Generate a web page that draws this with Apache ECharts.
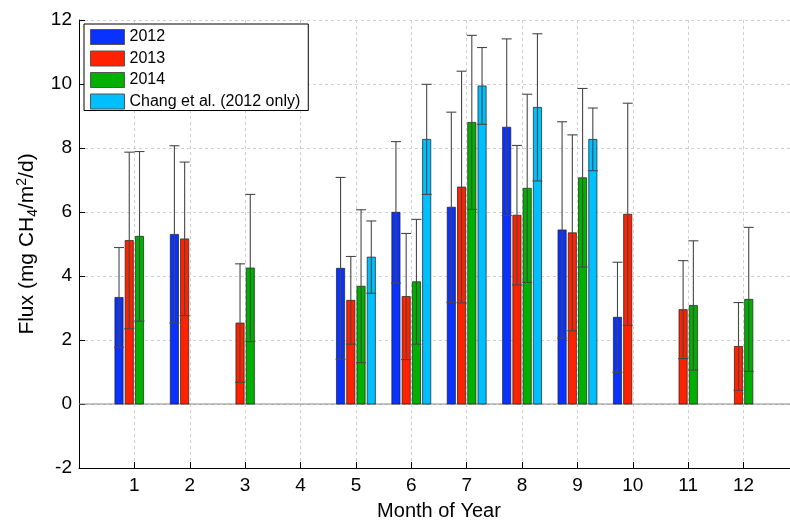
<!DOCTYPE html>
<html>
<head>
<meta charset="utf-8">
<script src="https://cdn.jsdelivr.net/npm/echarts@6/dist/echarts.min.js"></script>
<style>
  html, body { margin: 0; padding: 0; background: #fff; }
  #main { width: 790px; height: 525px; }
</style>
</head>
<body>
<div id="main"></div>
<script>
// monthly CH4 flux, mean and +/- error
let months = [1, 2, 3, 4, 5, 6, 7, 8, 9, 10, 11, 12];
let flux2012 = [3.33, 5.30, null, null, 4.24, 5.99, 6.15, 8.65, 5.44, 2.71, null, null];
let err2012  = [1.56, 2.77, null, null, 2.84, 2.21, 2.97, 2.76, 3.38, 1.72, null, null];
let flux2013 = [5.11, 5.16, 2.53, null, 3.24, 3.36, 6.78, 5.90, 5.35, 5.93, 2.95, 1.80];
let err2013  = [2.76, 2.40, 1.85, null, 1.37, 1.97, 3.62, 2.18, 3.06, 3.47, 1.53, 1.37];
let flux2014 = [5.24, null, 4.25, null, 3.68, 3.82, 8.80, 6.74, 7.07, null, 3.08, 3.27];
let err2014  = [2.65, null, 2.30, null, 2.39, 1.95, 2.72, 2.94, 2.79, null, 2.02, 2.25];
let fluxChang = [null, null, null, null, 4.59, 8.27, 9.94, 9.27, 8.27, null, null, null];
let errChang  = [null, null, null, null, 1.13, 1.72, 1.20, 2.30, 0.98, null, null, null];
let yTicks = [-2, 0, 2, 4, 6, 8, 10, 12];

let font = 'Liberation Sans, Arial, Helvetica, sans-serif';
let SLOT = 0.185;   // spacing between bars in a month, in months
let BAR_W = 0.148;  // bar width, in months
let CAP = 0.18;     // error cap width, in months

function toData(vals, errs) {
    let out = [];
    months.forEach(function (m, i) {
        if (vals[i] != null) out.push([m, vals[i], errs[i]]);
    });
    return out;
}

function barRenderer(slot) {
    return function (params, api) {
        let m = api.value(0), v = api.value(1), e = api.value(2);
        let unit = api.size([1, 0])[0];
        let cx = api.coord([m, 0])[0] + (slot - 1.5) * SLOT * unit;
        let bw = BAR_W * unit;
        let base = api.coord([m, 0])[1];
        let top = api.coord([m, v])[1];
        let hi = api.coord([m, v + e])[1];
        let lo = api.coord([m, v - e])[1];
        let half = CAP * unit / 2;
        let errStyle = { stroke: '#474747', lineWidth: 1.1 };
        return {
            type: 'group',
            children: [
                {
                    type: 'rect',
                    shape: { x: cx - bw / 2, y: top, width: bw, height: base - top },
                    style: { fill: api.visual('color'), stroke: 'rgba(30,30,30,0.7)', lineWidth: 1 }
                },
                { type: 'line', shape: { x1: cx, y1: hi, x2: cx, y2: lo }, style: errStyle },
                { type: 'line', shape: { x1: cx - half, y1: hi, x2: cx + half, y2: hi }, style: errStyle },
                { type: 'line', shape: { x1: cx - half, y1: lo, x2: cx + half, y2: lo }, style: errStyle }
            ]
        };
    };
}

let names = ['2012', '2013', '2014', 'Chang et al. (2012 only)'];
let colors = ['#0a32ff', '#ff2200', '#00b000', '#00bfff'];
let sets = [
    toData(flux2012, err2012),
    toData(flux2013, err2013),
    toData(flux2014, err2014),
    toData(fluxChang, errChang)
];

let chartDom = document.getElementById('main');
let myChart = echarts.init(chartDom, null, { renderer: 'canvas' });

let gridLine = { show: true, lineStyle: { color: '#cfcfcf', type: [3, 3], width: 1 } };

let series = sets.map(function (d, k) {
    return {
        name: names[k],
        type: 'custom',
        z: 3,
        itemStyle: { color: colors[k] },
        renderItem: barRenderer(k),
        data: d
    };
});

// gray zero baseline
series.unshift({
    name: 'baseline',
    type: 'line',
    z: 2,
    silent: true,
    symbol: 'none',
    lineStyle: { color: '#8a8a8a', width: 1 },
    data: [[0, 0], [13, 0]]
});

let option = {
    animation: false,
    backgroundColor: '#fff',
    grid: { left: 79, top: 20, width: 720, height: 448, outerBoundsMode: 'none', containLabel: false },
    legend: {
        data: names,
        orient: 'vertical',
        left: 84,
        top: 24,
        padding: [5, 8, 1, 6],
        itemWidth: 34,
        itemHeight: 15,
        itemGap: 5.5,
        icon: 'rect',
        borderColor: '#000',
        borderWidth: 1,
        backgroundColor: '#fff',
        itemStyle: { borderColor: '#555', borderWidth: 1 },
        textStyle: { fontFamily: font, fontSize: 16, color: '#000' }
    },
    xAxis: {
        type: 'value',
        min: 0,
        max: 13,
        interval: 1,
        name: 'Month of Year',
        nameLocation: 'middle',
        nameGap: 33,
        nameTextStyle: { fontFamily: font, fontSize: 20, color: '#000' },
        axisLine: { show: true, onZero: false, lineStyle: { color: '#000', width: 1 } },
        axisTick: { show: true, inside: true, length: 6, lineStyle: { color: '#000' } },
        axisLabel: {
            margin: 8,
            fontFamily: font,
            fontSize: 19,
            color: '#000',
            formatter: function (v) { return months.indexOf(v) >= 0 ? String(v) : ''; }
        },
        splitLine: gridLine
    },
    yAxis: {
        type: 'value',
        min: yTicks[0],
        max: yTicks[yTicks.length - 1],
        interval: 2,
        name: '{a|Flux (mg CH}{sub|4}{a|/m}{sup|2}{a|/d)}',
        nameLocation: 'middle',
        nameGap: 37,
        nameTextStyle: {
            fontFamily: font,
            fontSize: 21,
            color: '#000',
            rich: {
                a: { fontFamily: font, fontSize: 21, lineHeight: 25, color: '#000' },
                sub: { fontFamily: font, fontSize: 14, lineHeight: 14, verticalAlign: 'bottom', color: '#000' },
                sup: { fontFamily: font, fontSize: 14, lineHeight: 14, verticalAlign: 'top', color: '#000' }
            }
        },
        axisLine: { show: true, lineStyle: { color: '#000', width: 1 } },
        axisTick: { show: true, inside: true, length: 6, lineStyle: { color: '#000' } },
        axisLabel: { margin: 7, fontFamily: font, fontSize: 19, color: '#000' },
        splitLine: gridLine
    },
    series: series
};

option && myChart.setOption(option);
</script>
</body>
</html>
